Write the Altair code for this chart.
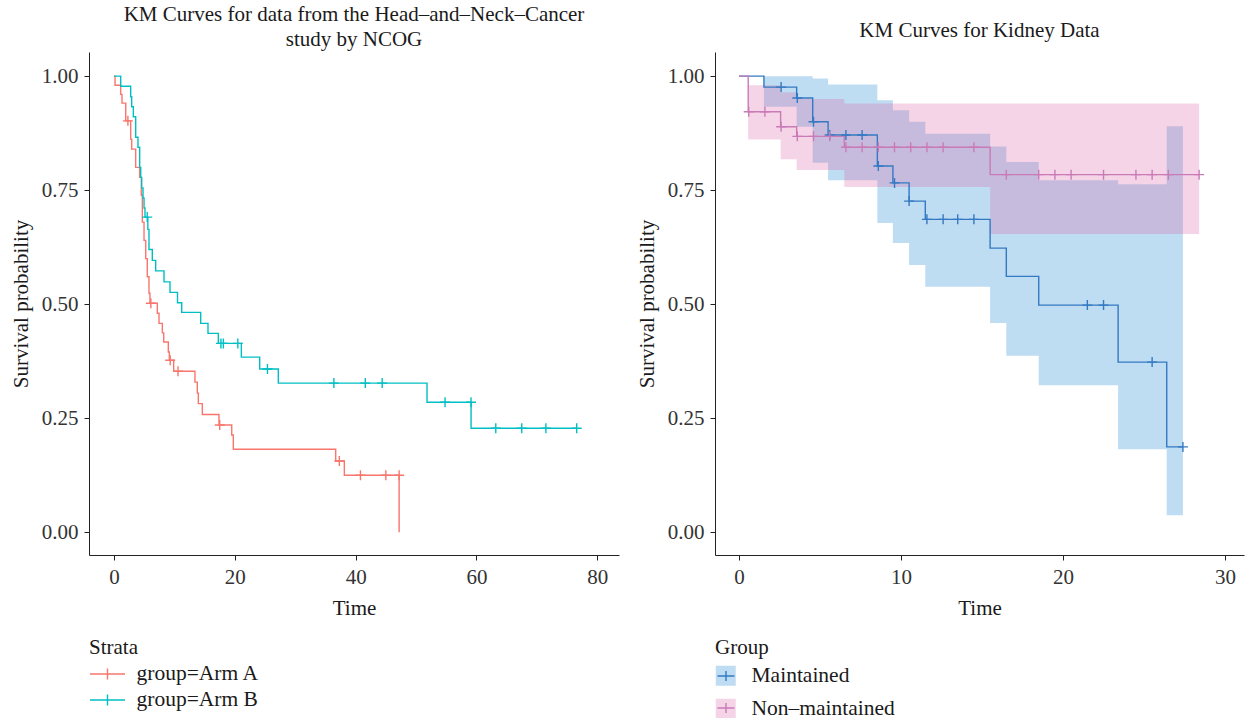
import altair as alt
import pandas as pd

FONT = "Liberation Serif"

# ---------------- Left panel: Head-and-Neck cancer (NCOG) ----------------
armA_t = [0, 0.17, 1.10, 1.32, 1.94, 2.76, 2.93, 3.59, 4.25, 4.52, 4.69, 4.97, 5.25, 5.51, 5.79, 5.95,
          7.17, 7.45, 8.0, 8.23, 8.99, 9.16, 9.88, 13.4, 13.79, 13.96, 14.62, 17.38, 19.49, 19.75,
          36.7, 38.13, 47.2]
armA_s = [1.0, 0.980, 0.960, 0.941, 0.902, 0.862, 0.840, 0.800, 0.778, 0.739, 0.680, 0.640, 0.600, 0.560, 0.524, 0.502,
          0.480, 0.458, 0.437, 0.417, 0.395, 0.377, 0.353, 0.329, 0.305, 0.282, 0.258, 0.235, 0.213, 0.182,
          0.156, 0.125, 0.0]
armA_ct = [2.3, 6.1, 9.3, 10.6, 17.5, 37.3, 40.8, 45.0, 47.2]
armA_cs = [0.902, 0.502, 0.377, 0.353, 0.235, 0.156, 0.125, 0.125, 0.125]

armB_t = [0, 1.11, 2.76, 2.93, 3.20, 3.59, 3.97, 4.25, 4.42, 4.59, 4.80, 4.97, 5.13, 5.60, 5.79, 6.34,
          6.90, 8.28, 9.27, 10.51, 11.21, 14.35, 15.56, 17.27, 21.08, 24.12, 27.20, 51.82, 59.11, 76.6]
armB_s = [1.0, 0.978, 0.955, 0.933, 0.911, 0.866, 0.844, 0.800, 0.778, 0.755, 0.733, 0.711, 0.691, 0.664, 0.620, 0.596,
          0.573, 0.549, 0.526, 0.503, 0.482, 0.458, 0.436, 0.414, 0.384, 0.358, 0.327, 0.285, 0.228, 0.228]
armB_ct = [5.5, 17.7, 18.1, 20.5, 25.4, 36.4, 41.6, 44.4, 54.8, 59.1, 63.2, 67.5, 71.5, 76.6]
armB_cs = [0.691, 0.414, 0.414, 0.414, 0.358, 0.327, 0.327, 0.327, 0.285, 0.285, 0.228, 0.228, 0.228, 0.228]

strata_names = ["group=Arm A", "group=Arm B"]
strata_colors = ["#F8766D", "#00BFC4"]

# ---------------- Right panel: Kidney data ----------------
maint_t = [0, 1.54, 3.56, 4.55, 5.5, 8.54, 9.5, 10.5, 11.5, 15.5, 16.5, 18.5, 23.4, 26.4, 27.4]
maint_s = [1.0, 0.976, 0.952, 0.900, 0.871, 0.803, 0.766, 0.726, 0.686, 0.623, 0.561, 0.498, 0.373, 0.187, 0.187]
maint_lo = [1.0, 0.933, 0.889, 0.810, 0.772, 0.678, 0.634, 0.586, 0.538, 0.459, 0.387, 0.322, 0.182, 0.037, 0.037]
maint_hi = [1.0, 1.0, 1.0, 0.995, 0.982, 0.947, 0.925, 0.900, 0.874, 0.846, 0.812, 0.772, 0.763, 0.890, 0.890]
maint_ct = [2.6, 3.6, 4.6, 5.6, 6.6, 7.6, 8.6, 9.6, 10.5, 11.6, 12.6, 13.5, 14.5, 21.5, 22.5, 25.5, 27.4]
maint_cs = [0.976, 0.952, 0.900, 0.871, 0.871, 0.871, 0.803, 0.766, 0.726, 0.686, 0.686, 0.686, 0.686,
            0.498, 0.498, 0.373, 0.187]

nonm_t = [0, 0.57, 2.57, 3.56, 6.5, 15.5, 28.4]
nonm_s = [1.0, 0.922, 0.889, 0.868, 0.844, 0.784, 0.784]
nonm_lo = [1.0, 0.861, 0.818, 0.794, 0.757, 0.654, 0.654]
nonm_hi = [1.0, 0.980, 0.965, 0.950, 0.940, 0.940, 0.940]
nonm_ct = [0.6, 1.6, 2.6, 3.6, 4.6, 5.6, 6.6, 7.6, 8.6, 9.6, 10.6, 11.6, 12.6, 14.5,
           16.5, 18.5, 19.5, 20.5, 22.5, 24.5, 25.5, 26.5, 28.4]
nonm_cs = [0.922, 0.922, 0.889, 0.868, 0.868, 0.868, 0.844, 0.844, 0.844, 0.844, 0.844, 0.844, 0.844, 0.844,
           0.784, 0.784, 0.784, 0.784, 0.784, 0.784, 0.784, 0.784, 0.784]

group_names = ["Maintained", "Non\u2013maintained"]
group_line_colors = ["#3479C2", "#C97BB8"]
group_fill_colors = ["#278AD4", "#DA70AC"]

# ---------------- tables ----------------
km_left = pd.concat([
    pd.DataFrame({"time": armA_t, "surv": armA_s, "strata": strata_names[0]}),
    pd.DataFrame({"time": armB_t, "surv": armB_s, "strata": strata_names[1]}),
])
cens_left = pd.concat([
    pd.DataFrame({"time": armA_ct, "surv": armA_cs, "strata": strata_names[0]}),
    pd.DataFrame({"time": armB_ct, "surv": armB_cs, "strata": strata_names[1]}),
])
km_right = pd.concat([
    pd.DataFrame({"time": maint_t, "surv": maint_s, "lo": maint_lo, "hi": maint_hi, "group": group_names[0]}),
    pd.DataFrame({"time": nonm_t, "surv": nonm_s, "lo": nonm_lo, "hi": nonm_hi, "group": group_names[1]}),
])
cens_right = pd.concat([
    pd.DataFrame({"time": maint_ct, "surv": maint_cs, "group": group_names[0]}),
    pd.DataFrame({"time": nonm_ct, "surv": nonm_cs, "group": group_names[1]}),
])

CROSS = "M-1,0H1M0,-1V1"
YTITLE = "Survival probability"
yscale = alt.Scale(domain=[-0.05, 1.053], nice=False, zero=False)
yaxis = alt.Axis(values=[0, 0.25, 0.5, 0.75, 1.0], format=".2f", title=YTITLE)

# ---------------- left chart ----------------
xL = alt.X("time:Q", scale=alt.Scale(domain=[-4.14, 83.6], nice=False, zero=False),
           axis=alt.Axis(values=[0, 20, 40, 60, 80], title="Time"))
yL = alt.Y("surv:Q", scale=yscale, axis=yaxis)
strokeL = alt.Stroke(
    "strata:N",
    scale=alt.Scale(domain=strata_names, range=strata_colors),
    legend=alt.Legend(title="Strata", orient="none", legendX=0, legendY=585,
                      symbolType="M-1.75,0H1.75M0,-0.55V0.55", symbolSize=400,
                      symbolStrokeWidth=1.4, symbolOpacity=1, symbolOffset=7.5,
                      labelOffset=18, rowPadding=4, titlePadding=5),
)
left_lines = alt.Chart(km_left).mark_line(interpolate="step-after", strokeWidth=1.4).encode(
    x=xL, y=yL, stroke=strokeL)
left_pts = alt.Chart(cens_left).mark_point(shape=CROSS, size=100, strokeWidth=1.4, opacity=1,
                                           filled=False).encode(x=xL, y=yL, stroke=strokeL)
left = alt.layer(left_lines, left_pts).properties(
    width=530, height=503,
    title=alt.Title(["KM Curves for data from the Head\u2013and\u2013Neck\u2013Cancer", "study by NCOG"],
                    offset=2, lineHeight=25),
)

# ---------------- right chart ----------------
xR = alt.X("time:Q", scale=alt.Scale(domain=[-1.48, 31.17], nice=False, zero=False),
           axis=alt.Axis(values=[0, 10, 20, 30], title="Time"))
yR = alt.Y("surv:Q", scale=yscale, axis=yaxis)
fillR = alt.Fill(
    "group:N",
    scale=alt.Scale(domain=group_names, range=group_fill_colors),
    legend=alt.Legend(title="Group", orient="none", legendX=0, legendY=585,
                      symbolType="square", symbolSize=400, symbolOpacity=0.3,
                      symbolStrokeWidth=0, labelOffset=15, rowPadding=10, titlePadding=7),
)
strokeR = alt.Stroke(
    "group:N",
    scale=alt.Scale(range=group_line_colors),
    legend=alt.Legend(title="Group", orient="none", legendX=0, legendY=585,
                      symbolType="M-0.85,0H0.85M0,-0.5V0.5", symbolSize=400,
                      symbolStrokeWidth=1.4, symbolOpacity=1, labelOffset=15,
                      rowPadding=10, titlePadding=7, labelOpacity=0, titleColor="transparent"),
)
right_band = alt.Chart(km_right).mark_area(interpolate="step-after", opacity=0.3).encode(
    x=xR, y=alt.Y("lo:Q", scale=yscale, axis=yaxis), y2="hi:Q", fill=fillR)
right_lines = alt.Chart(km_right).mark_line(interpolate="step-after", strokeWidth=1.4).encode(
    x=xR, y=yR, stroke=strokeR)
right_pts = alt.Chart(cens_right).mark_point(shape=CROSS, size=100, strokeWidth=1.4, opacity=1,
                                             filled=False).encode(x=xR, y=yR, stroke=strokeR)
right = alt.layer(right_band, right_lines, right_pts).properties(
    width=529, height=503,
    title=alt.Title("KM Curves for Kidney Data", offset=11),
)

chart = alt.hconcat(left, right, spacing=96, bounds="flush").resolve_scale(
    stroke="independent", fill="independent"
).resolve_legend(stroke="independent", fill="independent").properties(
    padding={"left": 10, "top": 4, "right": 5, "bottom": 5}
).configure_view(stroke=None).configure_axis(
    labelFont=FONT, titleFont=FONT, labelFontSize=21, titleFontSize=21,
    titleFontWeight="normal", labelColor="#333333", titleColor="#1a1a1a",
    domainColor="#222222", tickColor="#222222", tickSize=5, grid=False,
    labelPadding=6, titlePadding=10,
).configure_title(
    font=FONT, fontSize=21, fontWeight="normal", color="#1a1a1a", anchor="middle"
).configure_legend(
    labelFont=FONT, titleFont=FONT, labelFontSize=21.5, titleFontSize=21,
    titleFontWeight="normal", labelColor="#1a1a1a", titleColor="#1a1a1a",
)

chart.save("out.html", embed_options={"renderer": "svg", "actions": False})
